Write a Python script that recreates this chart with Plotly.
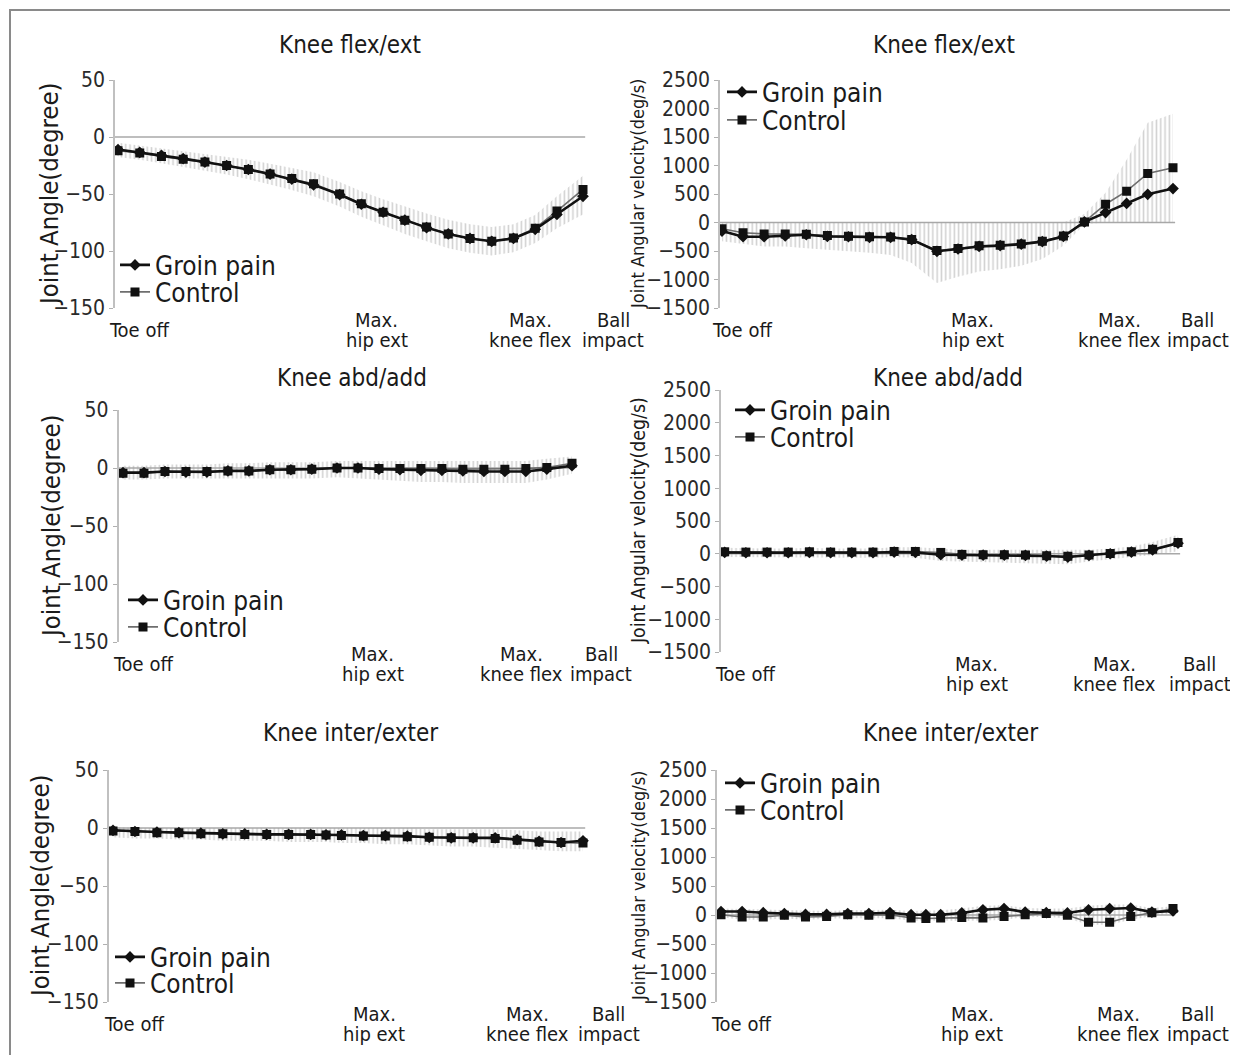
import plotly.graph_objects as go

# page has an 8px body margin: figure pixel = reference pixel - 8
OFF = 8
W, H = 1230, 1047
FONT = "DejaVu Sans Condensed, Liberation Sans Narrow, Roboto, sans-serif"

# ---------------- data ----------------
frames_a = [0, 5, 10, 15, 20, 25, 30, 35, 40, 45, 51, 56, 61, 66, 71, 76, 81, 86, 91, 96, 101, 107]
frames_b = [0, 5, 10, 15, 20, 25, 30, 35, 40, 45, 48.5, 52, 57, 62, 67, 72, 77, 82, 87, 92, 97, 102, 107]

phase_labels = ["Toe off", "Max.<br>hip ext", "Max.<br>knee flex", "Ball<br>impact"]
phase_frames = [4.8, 59.5, 95, 114]

series_names = ["Groin pain", "Control"]

titles = ["Knee flex/ext", "Knee flex/ext", "Knee abd/add", "Knee abd/add",
          "Knee inter/exter", "Knee inter/exter"]
ytitle_angle = "Joint Angle(degree)"
ytitle_vel = "Joint Angular velocity(deg/s)"

angle_ticks = [50, 0, -50, -100, -150]
vel_ticks = [2500, 2000, 1500, 1000, 500, 0, -500, -1000, -1500]

# Knee flex/ext angle
flex_ang_groin = [-11, -13.5, -16, -19, -22, -25, -28.5, -32.5, -37, -42, -50.5, -59, -66, -73,
                  -79.5, -85, -89, -91.5, -89, -81, -68, -52]
flex_ang_ctrl = [-12, -14, -17, -19.5, -22, -25, -28.5, -32.5, -36.5, -41, -50, -58.5, -66, -73,
                 -79, -85, -89, -91.5, -88.5, -80, -65, -46]
flex_ang_hi = [-5, -7.5, -10, -12, -14.5, -17, -20, -23.5, -27, -31, -39.5, -47.5, -54.5, -61,
               -67, -72.5, -76.5, -79, -76.5, -68.5, -52, -34]
flex_ang_lo = [-17.5, -20, -23, -26.5, -29.5, -33, -37, -41.5, -46.5, -52, -61, -70, -77.5, -85,
               -91.5, -97.5, -101.5, -104, -101, -93, -80, -68]

# Knee flex/ext angular velocity
flex_vel_groin = [-150, -250, -250, -235, -215, -245, -250, -260, -260, -300, -505, -465, -420,
                  -405, -380, -335, -245, 10, 175, 335, 495, 595]
flex_vel_ctrl = [-110, -180, -200, -200, -205, -230, -240, -250, -255, -300, -490, -455, -410,
                 -400, -375, -330, -235, 10, 320, 550, 860, 960]
flex_vel_hi = [0, 0, 0, 0, 0, 0, 0, 0, 0, 0, 0, 0, 0, 0, 0, 0, 0, 150, 520, 1100, 1750, 1910]
flex_vel_lo = [-330, -380, -420, -420, -450, -480, -510, -530, -570, -710, -1060, -950, -860,
               -820, -760, -640, -410, -30, 0, 0, 0, 0]

# Knee abd/add angle
abd_ang_groin = [-4, -4, -3, -3.5, -3.5, -2.5, -2.5, -1.5, -1.5, -1, 0, 0, -1, -1.5, -2, -2,
                 -2.5, -3, -3, -3, -1, 2]
abd_ang_ctrl = [-4.5, -4.5, -3, -3, -3, -2.5, -2.5, -1.5, -1.5, -1, 0, 0, -0.5, -0.5, -0.5,
                -0.5, -1, -1, -1, -0.5, 0.5, 4]
abd_ang_hi = [2, 2, 3, 3, 3, 4, 4, 5, 5, 5, 6, 6, 6, 6, 6, 6, 6, 6, 6, 6, 8, 10]
abd_ang_lo = [-10, -10, -9, -9, -9, -9, -9, -9, -9, -9, -8, -9, -10, -11, -12, -12, -13, -13,
              -13, -13, -10, -5]

# Knee abd/add angular velocity
abd_vel_groin = [20, 15, 15, 15, 20, 15, 15, 15, 25, 20, -15, -20, -20, -20, -25, -35, -50, -25,
                 0, 25, 60, 160]
abd_vel_ctrl = [30, 25, 25, 25, 30, 25, 25, 25, 35, 35, 20, -10, -15, -15, -20, -30, -40, -20,
                5, 30, 70, 170]
abd_vel_hi = [90, 80, 80, 80, 90, 80, 80, 80, 100, 100, 80, 60, 60, 60, 60, 60, 50, 60, 80, 110,
              180, 290]
abd_vel_lo = [-50, -60, -60, -60, -50, -60, -60, -60, -50, -60, -110, -120, -130, -130, -140,
              -150, -160, -120, -80, -50, -20, 40]

# Knee inter/exter angle
rot_ang_groin = [-2, -3, -3.5, -4, -4.5, -5, -5, -5.5, -5.5, -5.5, -6, -6, -6.5, -6.5, -7, -8,
                 -8.5, -8.5, -8.5, -10, -11.5, -12.5, -11]
rot_ang_ctrl = [-2.5, -3, -4, -4, -5, -5, -5.5, -5.5, -5.5, -5.5, -6, -6.5, -7, -7, -7.5, -8,
                -8.5, -8.5, -9, -10.5, -12, -12.5, -13]
rot_ang_hi = [1, 0, 0, 0, 0, 0, 0, 0, 0, 0, 0, 0, 0, 0, 0, -1, -1, -1, -1, -2, -3, -3, -3]
rot_ang_lo = [-8, -9, -9, -10, -10, -11, -11, -11, -12, -12, -12, -13, -13, -14, -14, -15, -16,
              -16, -17, -18, -19, -20, -20]

# Knee inter/exter angular velocity
rot_vel_groin = [60, 60, 40, 25, 10, 10, 25, 25, 40, 5, 5, 5, 35, 90, 110, 50, 40, 35, 90, 110,
                 120, 50, 70]
rot_vel_ctrl = [5, -35, -35, -5, -35, -25, 5, -5, 5, -50, -60, -50, -45, -50, -25, 5, 25, -5,
                -125, -125, -25, 40, 110]
rot_vel_hi = [110, 100, 90, 80, 70, 70, 80, 80, 90, 70, 80, 80, 110, 160, 170, 120, 110, 110,
              160, 180, 180, 120, 150]
rot_vel_lo = [-40, -80, -80, -60, -80, -70, -50, -60, -50, -100, -110, -100, -100, -100, -80,
              -40, -30, -60, -170, -170, -80, -20, 20]

# ---------------- layout geometry (reference pixels) ----------------
geom = [
    dict(ax=115, f0=118, f1=583, yt=80, yb=308, tx=350, ty=45, ytx=49, ytfs=25.5,
         leg=(122, 265, 292), lab_shift=(0, 0, 0, 0)),
    dict(ax=720, f0=722, f1=1173, yt=80, yb=308, tx=944, ty=45, ytx=638, ytfs=18,
         leg=(729, 92, 120), lab_shift=(0, 0, -3, -5)),
    dict(ax=118.5, f0=123, f1=572, yt=410, yb=642, tx=352, ty=378, ytx=51, ytfs=25.5,
         leg=(130, 600, 627), lab_shift=(0, 0, 0, 0)),
    dict(ax=721, f0=724.7, f1=1178, yt=390, yb=652, tx=948, ty=378, ytx=638, ytfs=19.3,
         leg=(737, 410, 437), lab_shift=(0, 0, -13, -8)),
    dict(ax=108.7, f0=113, f1=583, yt=770, yb=1002, tx=350, ty=733, ytx=40, ytfs=25.5,
         leg=(117, 957, 983), lab_shift=(0, 0, -3, -5)),
    dict(ax=717, f0=721, f1=1173, yt=770, yb=1002, tx=950, ty=733, ytx=638, ytfs=18,
         leg=(727, 783, 810), lab_shift=(0, 0, -4, -5)),
]

panels = [
    (frames_a, flex_ang_groin, flex_ang_ctrl, flex_ang_hi, flex_ang_lo, "angle"),
    (frames_a, flex_vel_groin, flex_vel_ctrl, flex_vel_hi, flex_vel_lo, "vel"),
    (frames_a, abd_ang_groin, abd_ang_ctrl, abd_ang_hi, abd_ang_lo, "angle"),
    (frames_a, abd_vel_groin, abd_vel_ctrl, abd_vel_hi, abd_vel_lo, "vel"),
    (frames_b, rot_ang_groin, rot_ang_ctrl, rot_ang_hi, rot_ang_lo, "angle"),
    (frames_b, rot_vel_groin, rot_vel_ctrl, rot_vel_hi, rot_vel_lo, "vel"),
]

X_END = 117
LAST_FRAME = 107

fig = go.Figure()
annotations = []
shapes = []
layout = {}


def px_x(p):
    return (p - OFF) / W


def px_y(p):
    return 1 - (p - OFF) / H


for i, (g, (fr, groin, ctrl, hi, lo, kind)) in enumerate(zip(geom, panels)):
    n = i + 1
    xa = "x" if n == 1 else f"x{n}"
    ya = "y" if n == 1 else f"y{n}"
    k = (g["f1"] - g["f0"]) / LAST_FRAME
    x0 = -(g["f0"] - g["ax"]) / k
    right = g["ax"] + (X_END - x0) * k
    if kind == "angle":
        ticks, yr, ytitle = angle_ticks, [-150, 50], ytitle_angle
    else:
        ticks, yr, ytitle = vel_ticks, [-1500, 2500], ytitle_vel

    layout["xaxis" if n == 1 else f"xaxis{n}"] = dict(
        domain=[px_x(g["ax"]), min(1, px_x(right))], range=[x0, X_END], anchor=ya,
        showticklabels=False, showline=False, showgrid=False, zeroline=False, ticks="")
    layout["yaxis" if n == 1 else f"yaxis{n}"] = dict(
        domain=[px_y(g["yb"]), px_y(g["yt"])], range=yr, anchor=xa,
        tickvals=ticks, ticks="outside", ticklen=4, tickcolor="#b0b0b0", tickwidth=1.2,
        showline=True, linecolor="#c0c0c0", linewidth=1.5, showgrid=False, zeroline=False,
        tickfont=dict(family=FONT, size=21, color="#2a2a2a"))

    # SD hatch band
    fig.add_trace(go.Scatter(
        x=list(fr) + list(fr)[::-1], y=list(hi) + list(lo)[::-1], xaxis=xa, yaxis=ya,
        mode="lines", line=dict(width=0), fill="toself", fillcolor="rgba(0,0,0,0)",
        fillpattern=dict(shape="|", fgcolor="#a4a4a4", bgcolor="rgba(0,0,0,0)",
                         size=4.3, solidity=0.36),
        showlegend=False, hoverinfo="skip"))

    lg1 = "legend" if i == 0 else f"legend{2 * i + 1}"
    lg2 = f"legend{2 * i + 2}"
    fig.add_trace(go.Scatter(
        x=fr, y=ctrl, xaxis=xa, yaxis=ya, name=series_names[1], mode="lines+markers",
        line=dict(color="#6e6e6e", width=1.6),
        marker=dict(symbol="square", size=9, color="#111111"),
        legend=lg2, showlegend=True))
    fig.add_trace(go.Scatter(
        x=fr, y=groin, xaxis=xa, yaxis=ya, name=series_names[0], mode="lines+markers",
        line=dict(color="#111111", width=2.6),
        marker=dict(symbol="diamond", size=9, color="#111111"),
        legend=lg1, showlegend=True))

    sx, gy, cy = g["leg"]
    for lg, yy in ((lg1, gy), (lg2, cy)):
        layout[lg] = dict(
            x=px_x(sx - 7), xanchor="left", y=px_y(yy), yanchor="middle",
            bgcolor="rgba(0,0,0,0)", borderwidth=0, itemwidth=30,
            font=dict(family=FONT, size=26, color="#1a1a1a"))

    # zero line
    shapes.append(dict(type="line", xref=xa, yref=ya, x0=x0, x1=fr[-1] + 0.5, y0=0, y1=0,
                       line=dict(color="#a8a8a8", width=1.5), layer="below"))

    # panel title
    annotations.append(dict(text=titles[i], xref="paper", yref="paper", x=px_x(g["tx"]),
                            y=px_y(g["ty"]), xanchor="center", yanchor="middle",
                            showarrow=False, font=dict(family=FONT, size=24, color="#1a1a1a")))
    # y title
    annotations.append(dict(text=ytitle, xref="paper", yref="paper", x=px_x(g["ytx"]),
                            y=px_y((g["yt"] + g["yb"]) / 2), xanchor="center",
                            yanchor="middle", textangle=-90, showarrow=False,
                            font=dict(family=FONT, size=g["ytfs"], color="#1a1a1a")))
    # phase labels (x tick labels)
    for j, (lab, f) in enumerate(zip(phase_labels, phase_frames)):
        lines = lab.split("<br>")
        offs = [22] if len(lines) == 1 else [12, 32]
        shift = g["lab_shift"][j]
        for line_txt, off in zip(lines, offs):
            annotations.append(dict(text=line_txt, xref=xa, yref="paper", x=f, xshift=shift,
                                    y=px_y(g["yb"] + off), xanchor="center",
                                    yanchor="middle", showarrow=False,
                                    font=dict(family=FONT, size=20, color="#1a1a1a")))

# outer frame (top and left)
shapes.append(dict(type="line", xref="paper", yref="paper", x0=px_x(9), x1=1,
                   y0=px_y(10), y1=px_y(10), line=dict(color="#8a8a8a", width=2)))
shapes.append(dict(type="line", xref="paper", yref="paper", x0=px_x(10), x1=px_x(10),
                   y0=0, y1=px_y(10), line=dict(color="#8a8a8a", width=2)))

fig.update_layout(
    width=W, height=H, margin=dict(l=0, r=0, t=0, b=0, autoexpand=False),
    paper_bgcolor="white", plot_bgcolor="rgba(0,0,0,0)",
    annotations=annotations, shapes=shapes, **layout)

fig.write_html("out.html")
